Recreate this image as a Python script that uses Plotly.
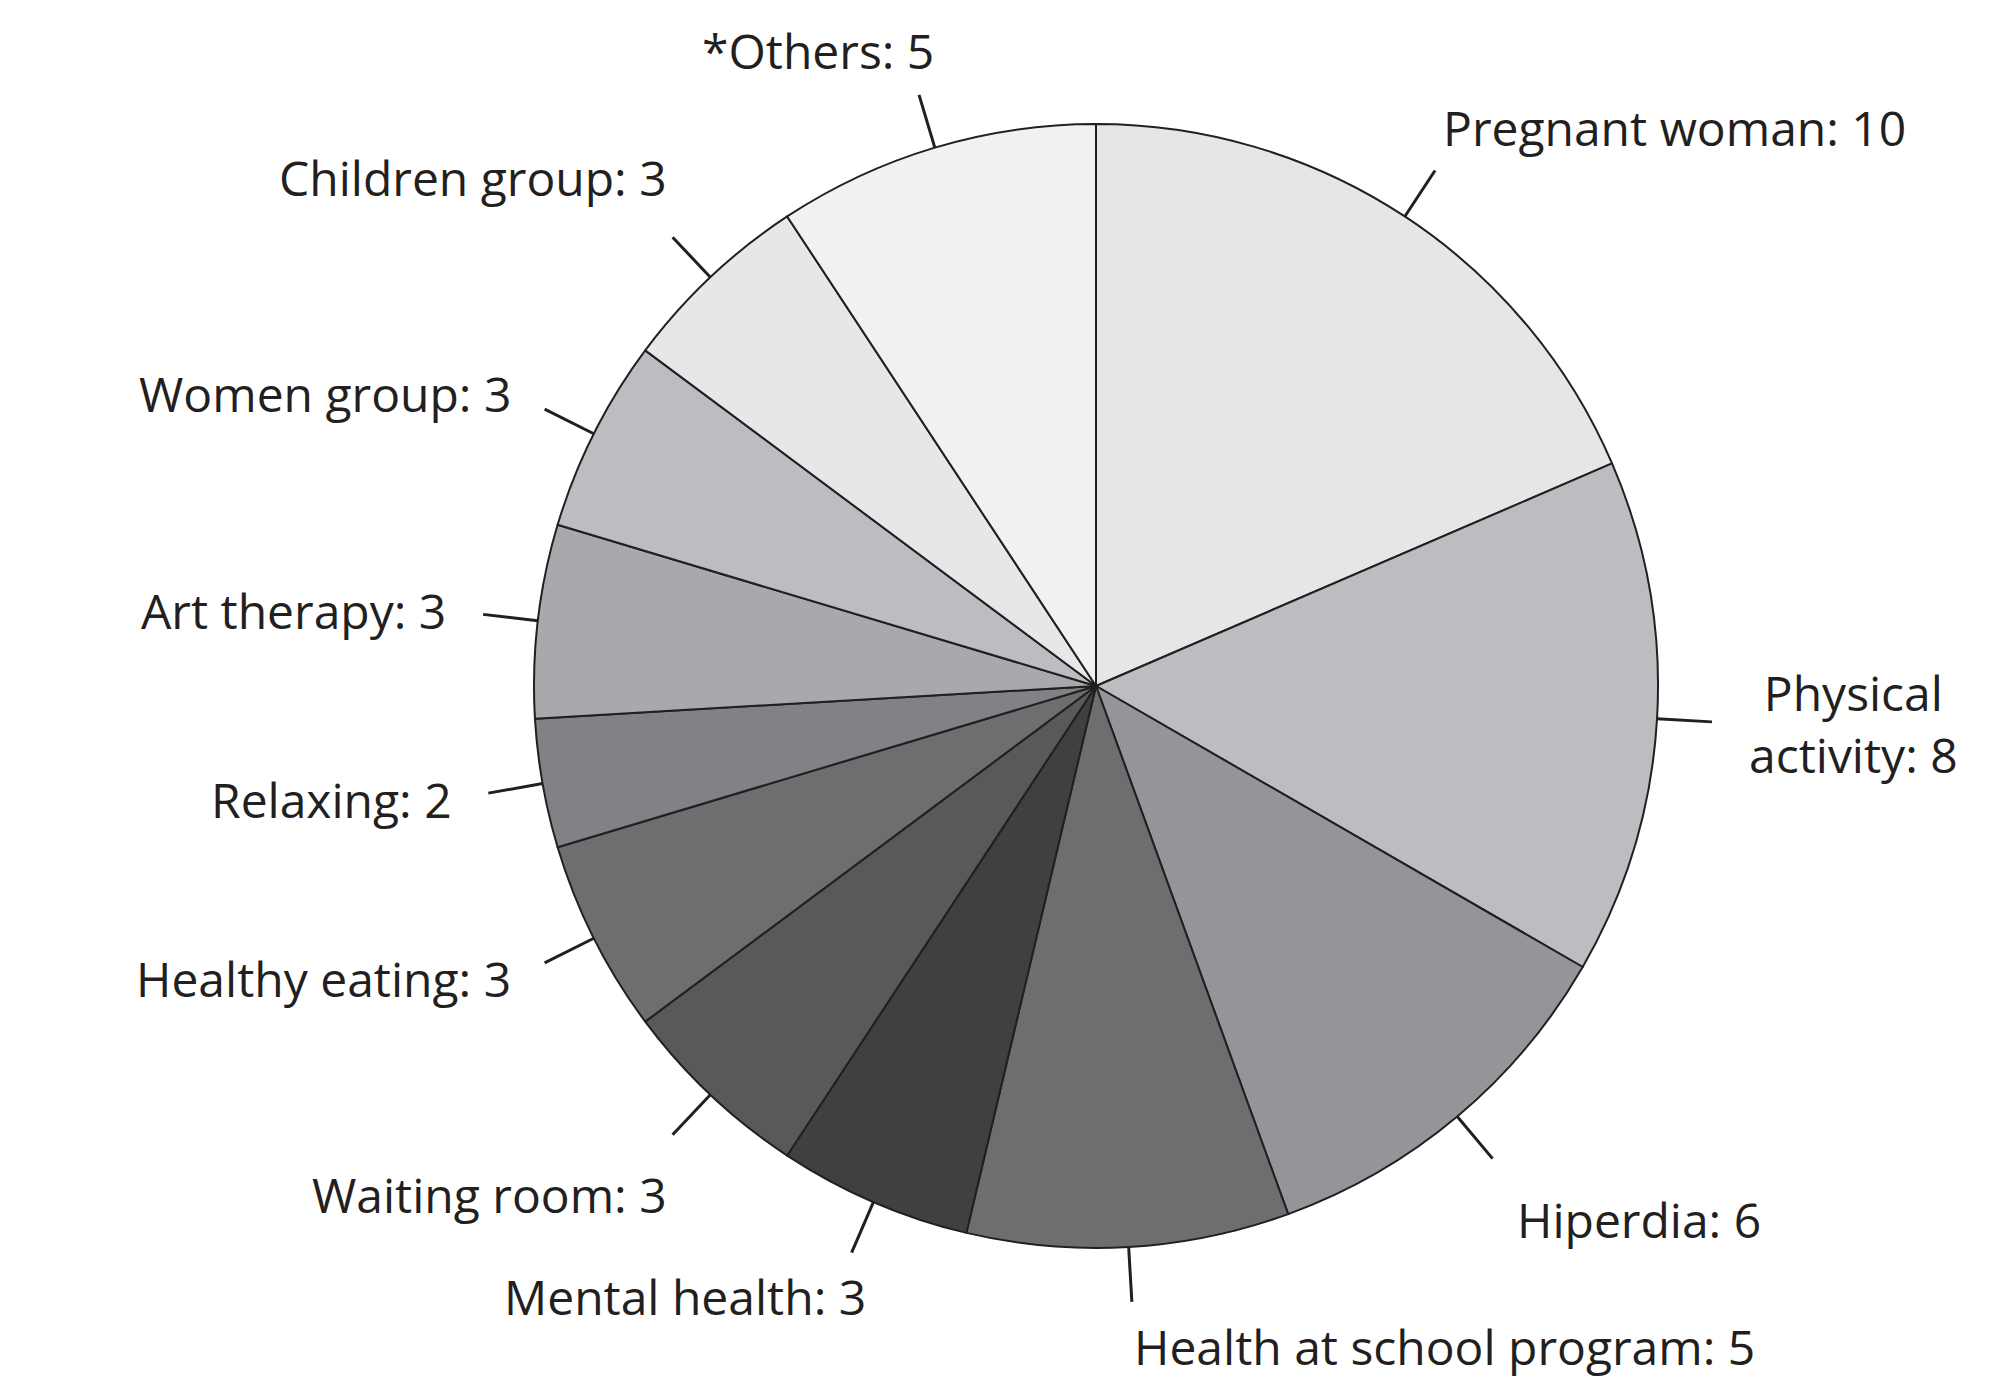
import numpy as np
import plotly.graph_objects as go

labels = ["Pregnant woman", "Physical activity", "Hiperdia", "Health at school program",
          "Mental health", "Waiting room", "Healthy eating", "Relaxing", "Art therapy",
          "Women group", "Children group", "*Others"]
values = [10, 8, 6, 5, 3, 3, 3, 2, 3, 3, 3, 5]
colors = ["#e6e6e7", "#bcbdc0", "#939598", "#6d6e70", "#3f4042", "#58595b",
          "#6d6e70", "#808285", "#a7a9ac", "#bcbdc0", "#e6e7e8", "#f1f1f2"]
texts = ["Pregnant woman: 10", "Physical<br>activity: 8", "Hiperdia: 6",
         "Health at school program: 5", "Mental health: 3", "Waiting room: 3",
         "Healthy eating: 3", "Relaxing: 2", "Art therapy: 3", "Women group: 3",
         "Children group: 3", "*Others: 5"]

W, H = 2000, 1383
cx, cy, R = 1088, 678, 562

fig = go.Figure(go.Pie(
    labels=labels, values=values, sort=False, direction="clockwise", rotation=0,
    marker=dict(colors=colors, line=dict(color="#231f20", width=2)),
    textinfo="none", hoverinfo="label+value", showlegend=False,
    domain=dict(x=[(cx - R) / W, (cx + R) / W], y=[1 - (cy + R) / H, 1 - (cy - R) / H]),
))

total = sum(values)
cum = np.cumsum(values) - np.array(values) / 2
shapes, annotations = [], []
for c, t in zip(cum, texts):
    th = np.radians(90 - 360 * c / total)
    co, si = np.cos(th), np.sin(th)
    x0, y0 = cx + R * co, cy - R * si
    x1, y1 = cx + (R + 55) * co, cy - (R + 55) * si
    shapes.append(dict(type="line", xref="paper", yref="paper",
                       x0=x0 / W, y0=1 - y0 / H, x1=x1 / W, y1=1 - y1 / H,
                       line=dict(color="#231f20", width=3)))
    gap = 65 if abs(si) > 0.8 else 90
    lx, ly = cx + (R + gap) * co, cy - (R + gap) * si
    xa = "left" if co > 0.15 else ("right" if co < -0.15 else "center")
    ya = "bottom" if si > 0.5 else ("top" if si < -0.5 else "middle")
    if ya != "middle":
        xa = "left" if co > 0.05 else ("right" if co < -0.05 else "center")
        if xa == "right":
            lx += 20
    annotations.append(dict(text=t, xref="paper", yref="paper", x=lx / W, y=1 - ly / H,
                            xanchor=xa, yanchor=ya, showarrow=False, align="center",
                            font=dict(size=48, color="#231f20", family="Open Sans")))

fig.update_layout(width=W, height=H, margin=dict(l=0, r=0, t=0, b=0),
                  paper_bgcolor="white", plot_bgcolor="white",
                  shapes=shapes, annotations=annotations)
fig.write_html("out.html")
